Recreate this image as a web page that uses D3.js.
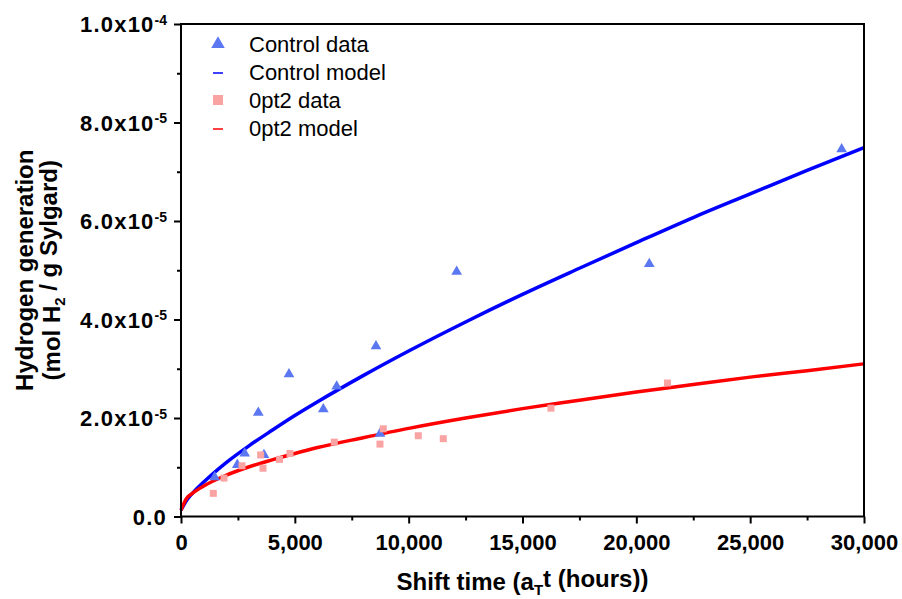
<!DOCTYPE html>
<html><head><meta charset="utf-8">
<script src="https://cdn.jsdelivr.net/npm/d3@7"></script>
<style>body{margin:0;background:#fff}svg{display:block}text{font-family:"Liberation Sans",Arial,sans-serif}</style>
</head><body><svg id="c" width="902" height="599"></svg>
<script>
// values in units of 1e-5 mol H2 / g
const controlT = [1480,2473,2798,3395,3645,4743,6250,6838,8564,8740,12109,20568,29018];
const controlY = [0.80,1.05,1.28,2.11,1.25,2.89,2.18,2.64,3.46,1.68,4.97,5.13,7.46];
const opt2T = [1419,1889,2679,3500,3601,4326,4787,6733,8885,8740,10422,11520,16250,21367];
const opt2Y = [0.47,0.78,1.03,1.25,0.98,1.16,1.28,1.51,1.78,1.47,1.64,1.58,2.20,2.71];
const modelT = [0,250,500,1000,2000,3000,4000,5000,6000,8000,10000,12500,15000,17500,20000,22500,25000,27500,30000];
const controlModel = [0.13,0.33,0.47,0.70,1.10,1.44,1.75,2.05,2.33,2.86,3.36,3.95,4.51,5.04,5.56,6.07,6.55,7.03,7.49];
const opt2Model = [0.13,0.37,0.47,0.62,0.84,1.01,1.15,1.28,1.40,1.60,1.79,2.00,2.19,2.36,2.53,2.68,2.83,2.96,3.10];
const xTicks = [0,5000,10000,15000,20000,25000,30000];
const yTicks = [0,2,4,6,8,10];
const yTickLabels = [["0.0",""],["2.0x10","-5"],["4.0x10","-5"],["6.0x10","-5"],["8.0x10","-5"],["1.0x10","-4"]];
const legendItems = ["Control data","Control model","0pt2 data","0pt2 model"];

const svg = d3.select("#c");
const L=181,R=864,T=24,B=516.5;
const x = d3.scaleLinear().domain([0,30000]).range([L,R]);
const y = d3.scaleLinear().domain([0,10]).range([B,T]);
const blue="#0000ff", red="#ff0000", triC="#5b78f2", sqC="#f9a3a3";

// lines
const line = d3.line().x(d=>x(d[0])).y(d=>y(d[1])).curve(d3.curveMonotoneX);
svg.append("path").datum(modelT.map((t,i)=>[t,controlModel[i]])).attr("d",line)
  .attr("fill","none").attr("stroke",blue).attr("stroke-width",3.5);
svg.append("path").datum(modelT.map((t,i)=>[t,opt2Model[i]])).attr("d",line)
  .attr("fill","none").attr("stroke",red).attr("stroke-width",3.5);

// data markers
const tri = d3.symbol().type(d3.symbolTriangle).size(50);
svg.append("g").selectAll("path").data(controlT.map((t,i)=>[t,controlY[i]])).join("path")
  .attr("d",tri).attr("transform",d=>`translate(${x(d[0])},${y(d[1])})`).attr("fill",triC);
svg.append("g").selectAll("rect").data(opt2T.map((t,i)=>[t,opt2Y[i]])).join("rect")
  .attr("x",d=>x(d[0])-3.5).attr("y",d=>y(d[1])-3.5).attr("width",7).attr("height",7).attr("fill",sqC);

// frame
svg.append("rect").attr("x",L).attr("y",T).attr("width",R-L).attr("height",B-T)
  .attr("fill","none").attr("stroke","#000").attr("stroke-width",2);

// x axis
const xa = svg.append("g").attr("transform",`translate(0,${B})`);
xa.call(d3.axisBottom(x).tickValues(d3.range(2500,30000,5000)).tickSize(4).tickFormat(""));
xa.call(g=>g.select(".domain").remove());
const xb = svg.append("g").attr("transform",`translate(0,${B})`);
xb.call(d3.axisBottom(x).tickValues(xTicks).tickSize(7).tickPadding(11).tickFormat(d3.format(",")));
xb.select(".domain").remove();
svg.selectAll(".tick line").attr("stroke","#000").attr("stroke-width",2);
xb.selectAll("text").attr("font-size",22).attr("font-weight","bold").attr("fill","#000");

// y axis
const ya = svg.append("g").attr("transform",`translate(${L},0)`);
ya.call(d3.axisLeft(y).tickValues([1,3,5,7,9]).tickSize(4).tickFormat(""));
ya.select(".domain").remove();
const yb = svg.append("g").attr("transform",`translate(${L},0)`);
yb.call(d3.axisLeft(y).tickValues(yTicks).tickSize(7).tickFormat(""));
yb.select(".domain").remove();
svg.selectAll(".tick line").attr("stroke","#000").attr("stroke-width",2);
yb.selectAll(".tick").each(function(d,i){
  const t = d3.select(this).append("text").attr("x",-14).attr("dy","0.36em")
    .attr("text-anchor","end").attr("font-size",22).attr("font-weight","bold").attr("fill","#000");
  t.append("tspan").attr("letter-spacing",1.2).text(yTickLabels[i][0]);
  if(yTickLabels[i][1]) t.append("tspan").attr("dy","-0.55em").attr("font-size",14).text(yTickLabels[i][1]);
});

// axis titles
const xt = svg.append("text").attr("x",(L+R)/2).attr("y",590).attr("text-anchor","middle")
  .attr("font-size",24).attr("font-weight","bold").attr("fill","#000");
xt.append("tspan").text("Shift time (a");
xt.append("tspan").attr("font-size",15).attr("dy","0.35em").text("T");
xt.append("tspan").attr("dy","-0.35em").text("t (hours))");

const yt = svg.append("g").attr("transform",`translate(0,${(T+B)/2}) rotate(-90)`);
yt.append("text").attr("x",0).attr("y",33).attr("text-anchor","middle")
  .attr("font-size",24).attr("font-weight","bold").attr("fill","#000").text("Hydrogen generation");
const yt2 = yt.append("text").attr("x",0).attr("y",60).attr("text-anchor","middle")
  .attr("font-size",24).attr("font-weight","bold").attr("fill","#000");
yt2.append("tspan").text("(mol H");
yt2.append("tspan").attr("font-size",15).attr("dy","0.35em").text("2");
yt2.append("tspan").attr("dy","-0.35em").text(" / g Sylgard)");

// legend
const lg = svg.append("g");
const rows = [44,72,100,128];
legendItems.forEach((s,i)=>{
  const yy = rows[i];
  if(i===0) lg.append("path").attr("d",d3.symbol().type(d3.symbolTriangle).size(80)).attr("transform",`translate(218,${yy})`).attr("fill",triC);
  if(i===2) lg.append("rect").attr("x",213).attr("y",yy-5).attr("width",10).attr("height",10).attr("fill",sqC);
  if(i===1||i===3) lg.append("line").attr("x1",213).attr("x2",223).attr("y1",yy+1).attr("y2",yy+1).attr("stroke",i===1?blue:red).attr("stroke-width",1.5);
  lg.append("text").attr("x",249).attr("y",yy).attr("dy","0.36em").attr("font-size",22).attr("fill","#000").text(s);
});
</script></body></html>
